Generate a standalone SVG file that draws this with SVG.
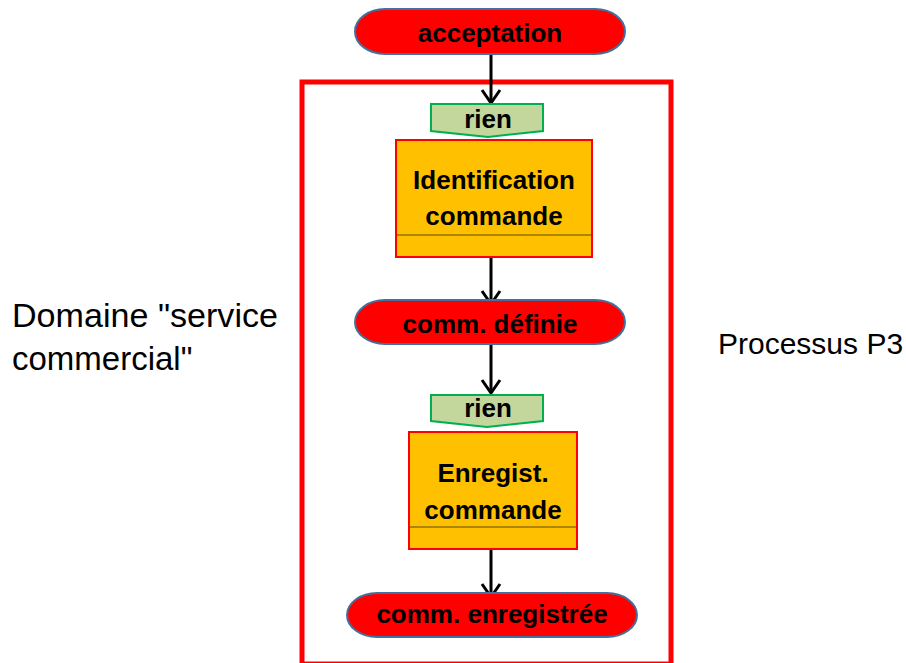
<svg xmlns="http://www.w3.org/2000/svg" width="906" height="663" viewBox="0 0 906 663">
<style>
.state{fill:#FF0000;stroke:#41719C;stroke-width:2}
.cond{fill:#C3D69B;stroke:#00B050;stroke-width:2}
.proc{fill:#FFC000;stroke:#FF0000;stroke-width:2}
.sep{stroke:#5C4A00;stroke-width:1.2}
.lbl{font-family:"Liberation Sans",Arial,sans-serif;font-weight:bold;font-size:26px;fill:#000;text-anchor:middle}
.side{font-family:"Liberation Sans",Arial,sans-serif;fill:#000}
.conn{stroke:#000;stroke-width:3;fill:none;marker-end:url(#arr)}
</style>
<defs>
<marker id="arr" viewBox="-2 -11 17 22" refX="13" refY="0" markerWidth="17" markerHeight="22" markerUnits="userSpaceOnUse" orient="auto">
<path d="M0,-9 L13,0 L0,9" fill="none" stroke="#000" stroke-width="3"/>
</marker>
</defs>
<rect width="906" height="663" fill="#fff"/>
<g id="frame">
<rect x="302" y="82" width="369" height="582" fill="none" stroke="#FF0000" stroke-width="5"/>
</g>
<g id="label-domaine">
<text class="side" font-size="33" x="12" y="327" textLength="266" lengthAdjust="spacingAndGlyphs">Domaine "service</text>
<text class="side" font-size="33" x="12" y="370">commercial"</text>
</g>
<g id="label-processus">
<text class="side" font-size="30" x="718" y="354">Processus P3</text>
</g>
<g id="connectors">
<line class="conn" x1="491" y1="54" x2="491" y2="103"/>
<line class="conn" x1="491" y1="257" x2="491" y2="304"/>
<line class="conn" x1="491" y1="344" x2="491" y2="393"/>
<line class="conn" x1="491" y1="549" x2="491" y2="597"/>
</g>
<g id="acceptation">
<path class="state" d="M385,9 H595 A30,22.5 0 0 1 595,54 H385 A30,22.5 0 0 1 385,9 Z"/>
<text class="lbl" x="490" y="42">acceptation</text>
</g>
<g id="rien1">
<polygon class="cond" points="431,104 543,104 543,131 488,137 431,131"/>
<text class="lbl" x="488" y="128">rien</text>
</g>
<g id="identification">
<rect class="proc" x="396" y="140" width="196" height="117"/>
<line class="sep" x1="397" y1="235" x2="591" y2="235"/>
<text class="lbl" x="494" y="189">Identification</text>
<text class="lbl" x="494" y="225">commande</text>
</g>
<g id="comm-definie">
<path class="state" d="M385,300 H595 A30,22 0 0 1 595,344 H385 A30,22 0 0 1 385,300 Z"/>
<text class="lbl" x="490" y="333">comm. définie</text>
</g>
<g id="rien2">
<polygon class="cond" points="431,395 543,395 543,421 487,427 431,421"/>
<text class="lbl" x="488" y="417">rien</text>
</g>
<g id="enregist">
<rect class="proc" x="409" y="432" width="168" height="117"/>
<line class="sep" x1="410" y1="527" x2="576" y2="527"/>
<text class="lbl" x="493" y="482">Enregist.</text>
<text class="lbl" x="493" y="519">commande</text>
</g>
<g id="comm-enregistree">
<path class="state" d="M377,593 H607 A30,22 0 0 1 607,637 H377 A30,22 0 0 1 377,593 Z"/>
<text class="lbl" x="492" y="623">comm. enregistrée</text>
</g>
</svg>
